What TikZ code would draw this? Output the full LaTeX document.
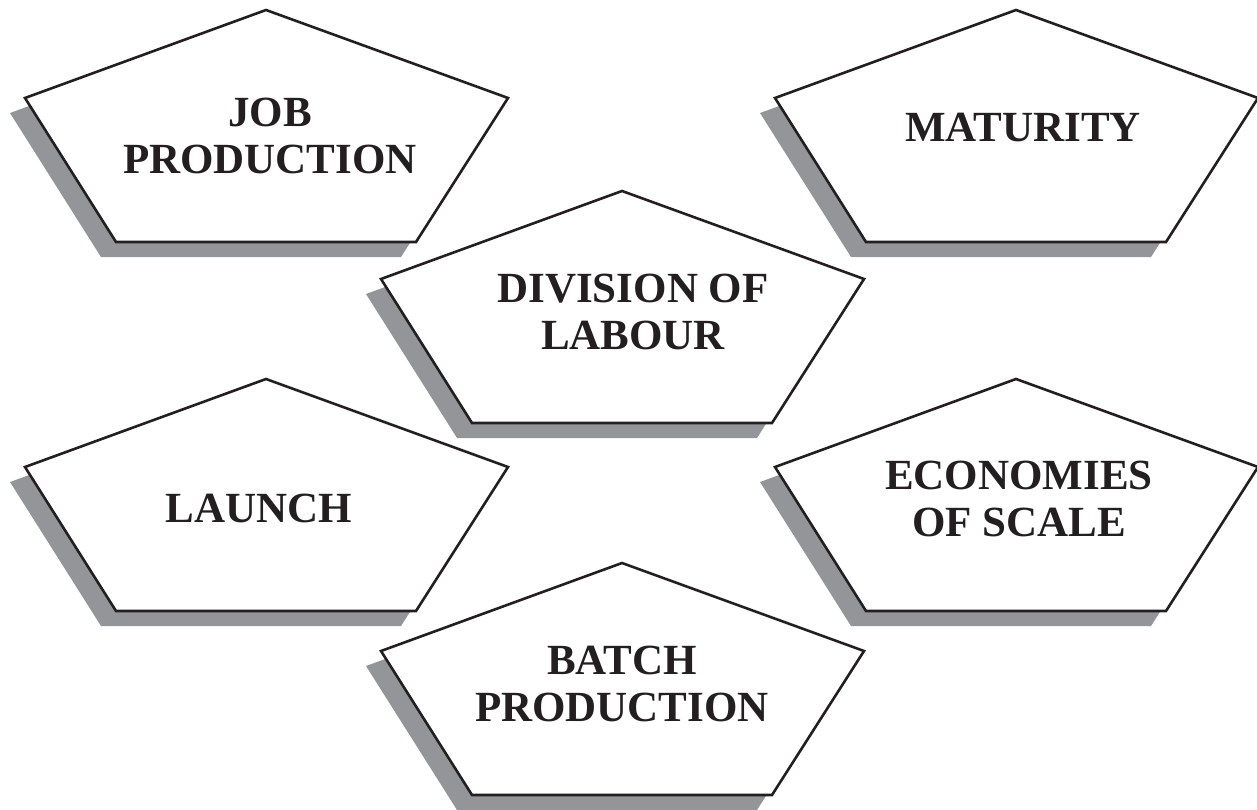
\documentclass[tikz,border=0pt]{standalone}
\usepackage{fontspec}
\setmainfont{Liberation Serif}
\definecolor{ink}{HTML}{231F20}
\definecolor{shadowgray}{HTML}{939598}
\tikzset{
  pbox/.style={fill=white,draw=ink,line width=2.6pt,line join=miter},
  plabel/.style={font=\fontsize{43}{47}\selectfont\bfseries,text=ink,align=center,inner sep=0pt},
  pent/.pic={
    \fill[shadowgray] (-15,15) -- ++(242,88) -- ++(-92,144) -- ++(-300,0) -- ++(-91,-144) -- cycle;
    \draw[pbox] (0,0) -- ++(242,88) -- ++(-92,144) -- ++(-300,0) -- ++(-91,-144) -- cycle;
  }
}
\begin{document}
\begin{tikzpicture}[x=1pt,y=-1pt]
\useasboundingbox (0,0) rectangle (1257,810);
\pic (pjob) at (266,10) {pent};
\pic (pmat) at (1016,10) {pent};
\pic (pdiv) at (622,191) {pent};
\pic (plau) at (266,379) {pent};
\pic (peco) at (1016,379) {pent};
\pic (pbat) at (622,563) {pent};
\node[plabel] (job) at (270,136) {JOB\\PRODUCTION};
\node[plabel] (mat) at (1023,127.5) {MATURITY};
\node[plabel] (div) at (633,311.5) {DIVISION OF\\LABOUR};
\node[plabel] (lau) at (259,508) {LAUNCH};
\node[plabel] (eco) at (1019,498.5) {ECONOMIES\\OF SCALE};
\node[plabel] (bat) at (622,683.5) {BATCH\\PRODUCTION};
\end{tikzpicture}
\end{document}
